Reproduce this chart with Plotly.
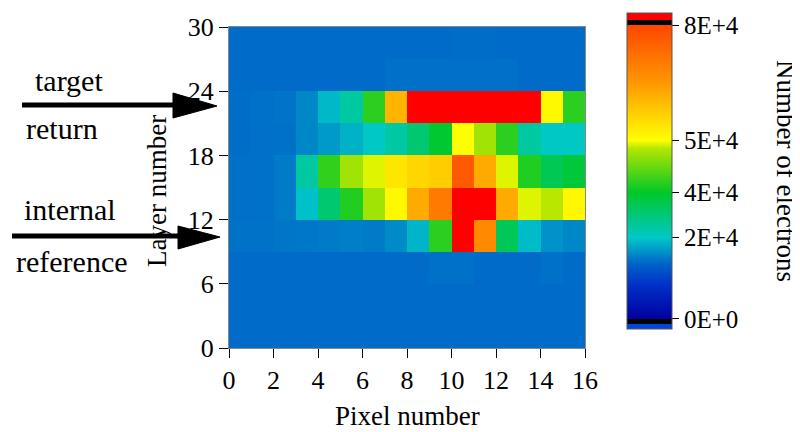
import numpy as np
import plotly.graph_objects as go

# ---------------- data ----------------
pixel_centers = [0.5, 1.5, 2.5, 3.5, 4.5, 5.5, 6.5, 7.5, 8.5, 9.5, 10.5, 11.5, 12.5, 13.5, 14.5, 15.5]
layer_centers = [1.5, 4.5, 7.5, 10.5, 13.5, 16.5, 19.5, 22.5, 25.5, 28.5]

# number of electrons (thousands), rows from layer 0-3 (bottom) to 27-30 (top)
row_00_03 = [14.0, 14.0, 14.0, 14.0, 14.0, 14.0, 14.0, 14.0, 14.0, 14.0, 14.0, 14.0, 14.0, 14.0, 14.0, 14.0]
row_03_06 = [14.0, 14.0, 14.0, 14.0, 14.0, 14.0, 14.0, 14.0, 14.0, 14.0, 14.0, 14.0, 14.0, 14.0, 14.0, 14.0]
row_06_09 = [14.0, 14.0, 14.0, 14.0, 14.0, 14.0, 14.0, 14.0, 14.0, 14.4, 14.4, 14.0, 14.0, 14.0, 14.4, 14.0]
row_09_12 = [14.5, 14.5, 14.7, 14.8, 15.0, 15.2, 15.0, 16.0, 18.8, 42.0, 95.0, 67.6, 34.0, 19.2, 16.5, 15.8]
row_12_15 = [14.3, 14.4, 15.0, 19.5, 31.0, 41.5, 47.5, 51.0, 62.2, 70.3, 95.0, 95.0, 62.2, 49.3, 48.5, 51.0]
row_15_18 = [14.3, 14.4, 15.0, 25.0, 42.3, 47.5, 49.3, 53.6, 55.8, 57.2, 76.3, 62.2, 49.3, 41.5, 34.5, 38.0]
row_18_21 = [14.2, 14.3, 14.4, 15.8, 17.0, 18.5, 20.3, 24.5, 31.0, 39.0, 50.0, 47.5, 42.0, 25.0, 20.5, 20.5]
row_21_24 = [14.2, 14.4, 14.6, 15.8, 19.0, 25.0, 42.0, 60.8, 95.0, 95.0, 95.0, 95.0, 95.0, 95.0, 50.8, 42.0]
row_24_27 = [14.0, 14.0, 14.0, 14.0, 14.0, 14.0, 14.0, 14.3, 14.3, 14.3, 14.3, 14.3, 14.3, 14.0, 14.0, 14.0]
row_27_30 = [14.0, 14.0, 14.0, 14.0, 14.0, 14.0, 14.0, 14.0, 14.0, 14.0, 14.2, 14.2, 14.0, 14.0, 14.0, 14.0]

x_tick_vals = [0, 2, 4, 6, 8, 10, 12, 14, 16]
y_tick_vals = [0, 6, 12, 18, 24, 30]
cbar_tick_electrons = [0, 20000, 40000, 50000, 80000]
cbar_tick_text = ["0E+0", "2E+4", "4E+4", "5E+4", "8E+4"]

# ---------------- colour scale (non-linear colour bar) ----------------
scale_e = [-5000, 0, 20000, 40000, 50000, 80000, 100000]
scale_p = [0.0, 0.032, 0.289, 0.432, 0.597, 0.962, 1.0]

def to_pos(e):
    return np.interp(np.asarray(e, dtype=float), scale_e, scale_p)

rows = [row_00_03, row_03_06, row_06_09, row_09_12, row_12_15,
        row_15_18, row_18_21, row_21_24, row_24_27, row_27_30]
z = to_pos(np.array(rows) * 1000.0)

colorscale = [
    [0.0, "rgb(0,70,220)"], [0.016, "rgb(0,70,220)"],
    [0.016, "rgb(0,0,0)"], [0.032, "rgb(0,0,0)"],
    [0.032, "rgb(0,0,160)"],
    [0.143, "rgb(0,50,200)"],
    [0.206, "rgb(0,100,200)"],
    [0.289, "rgb(0,200,200)"],
    [0.432, "rgb(0,200,40)"],
    [0.571, "rgb(180,230,0)"],
    [0.597, "rgb(255,255,0)"],
    [0.781, "rgb(255,150,0)"],
    [0.962, "rgb(255,70,0)"],
    [0.962, "rgb(0,0,0)"], [0.978, "rgb(0,0,0)"],
    [0.978, "rgb(255,0,0)"], [1.0, "rgb(255,0,0)"],
]

# ---------------- layout geometry (pixels of the reference picture) ----------------
OFF = 8  # page body margin
W, H = 800 - OFF, 432 - OFF
PL, PR, PT, PB = 229, 585, 27, 348

def px(x):
    return (x - PL) / (PR - PL)

def py(y):
    return (PB - y) / (PB - PT)

FONT = "Liberation Serif, Times New Roman, serif"

fig = go.Figure()
fig.add_trace(go.Heatmap(
    x=pixel_centers, y=layer_centers, z=z,
    zmin=0, zmax=1, colorscale=colorscale, zsmooth=False,
    hoverinfo="skip",
    colorbar=dict(
        thickness=45, thicknessmode="pixels",
        len=316, lenmode="pixels",
        x=px(627), xanchor="left", xpad=0,
        y=py(171), yanchor="middle", ypad=0,
        outlinecolor="#555", outlinewidth=1,
        tickvals=list(to_pos(cbar_tick_electrons)), ticktext=cbar_tick_text,
        ticks="outside", ticklen=7, tickwidth=1, tickcolor="black",
        tickfont=dict(family=FONT, size=25, color="black"),
    ),
))

axis_common = dict(
    showgrid=False, zeroline=False, showline=True, linecolor="#888", linewidth=1,
    mirror=True, ticks="outside", ticklen=9, tickwidth=1, tickcolor="black",
    tickfont=dict(family=FONT, size=26, color="black"),
)
fig.update_xaxes(range=[0, 16], tickvals=x_tick_vals, automargin=False, **axis_common)
fig.update_yaxes(range=[0, 30], tickvals=y_tick_vals, automargin=False, **axis_common)

annotations = [
    dict(text="Pixel number", x=px(407), y=py(416), textangle=0, size=27),
    dict(text="Layer number", x=px(157), y=py(191), textangle=-90, size=27),
    dict(text="Number of electrons", x=px(786), y=py(171), textangle=90, size=27),
    dict(text="target", x=px(69), y=py(80), textangle=0, size=30),
    dict(text="return", x=px(62), y=py(128), textangle=0, size=30),
    dict(text="internal", x=px(70), y=py(209), textangle=0, size=30),
    dict(text="reference", x=px(72), y=py(261), textangle=0, size=30),
]
for a in annotations:
    fig.add_annotation(text=a["text"], x=a["x"], y=a["y"], xref="paper", yref="paper",
                       xanchor="center", yanchor="middle", showarrow=False,
                       textangle=a["textangle"],
                       font=dict(family=FONT, size=a["size"], color="black"))

# arrows (line + triangular head)
arrows = [
    dict(x0=22, y0=105, xb=173, ytop=93, ybot=118, xt=217, yt=106),
    dict(x0=12, y0=236, xb=178, ytop=226, ybot=249, xt=220, yt=237),
]
for ar in arrows:
    fig.add_shape(type="line", xref="paper", yref="paper",
                  x0=px(ar["x0"]), y0=py(ar["y0"]), x1=px(ar["xb"] + 5), y1=py(ar["y0"]),
                  line=dict(color="black", width=5))
    path = "M {} {} L {} {} L {} {} Z".format(
        px(ar["xb"]), py(ar["ytop"]), px(ar["xb"]), py(ar["ybot"]), px(ar["xt"]), py(ar["yt"]))
    fig.add_shape(type="path", xref="paper", yref="paper", path=path,
                  fillcolor="black", line=dict(color="black", width=1))

fig.update_layout(
    width=W, height=H,
    margin=dict(l=PL - OFF, r=800 - PR, t=PT - OFF, b=432 - PB, pad=0, autoexpand=False),
    paper_bgcolor="white", plot_bgcolor="white",
    showlegend=False,
)

fig.write_html("out.html")
